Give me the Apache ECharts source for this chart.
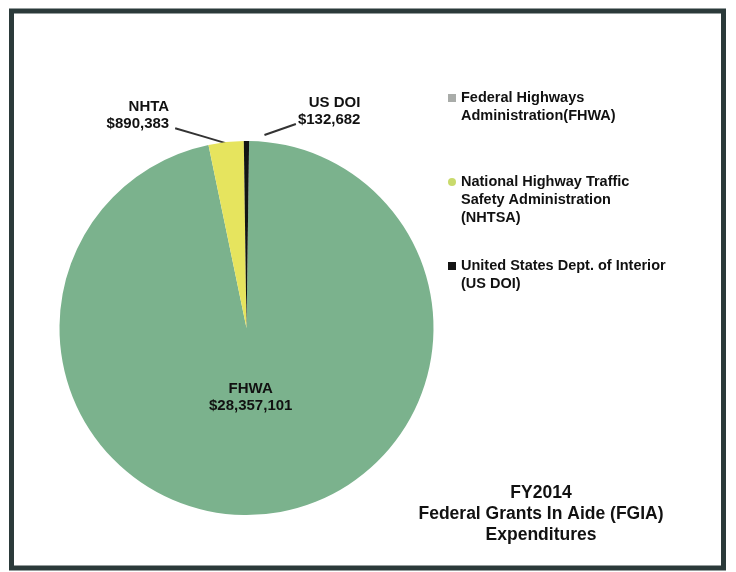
<!DOCTYPE html>
<html>
<head>
<meta charset="utf-8">
<script src="https://cdn.jsdelivr.net/npm/echarts@6/dist/echarts.min.js"></script>
<style>html,body{margin:0;padding:0;background:#fff}#c{width:736px;height:572px}</style>
</head>
<body>
<div id="c"></div>
<script>
// ---- data ----
const shortNames = ['FHWA', 'NHTA', 'US DOI'];
const legendNames = [
  'Federal Highways\nAdministration(FHWA)',
  'National Highway Traffic\nSafety Administration\n(NHTSA)',
  'United States Dept. of Interior\n(US DOI)'
];
const values = [28357101, 890383, 132682];
const sliceColors = ['#7bb28d', '#e6e45e', '#121414'];
const legendMarkerColors = ['#a9aca9', '#c9da6c', '#141414'];
const titleLines = ['FY2014', 'Federal Grants In Aide (FGIA)', 'Expenditures'];

const chart = echarts.init(document.getElementById('c'));
const fontFam = '"Liberation Sans", Arial, sans-serif';

function fmtMoney(v) {
  return '$' + v.toLocaleString('en-US');
}

const data = values.map((v, i) => ({
  name: legendNames[i],
  value: v,
  itemStyle: { color: sliceColors[i] },
  label: i === 0
    ? { position: 'inside' }
    : { position: 'outside' }
}));

// pad legend text so marker sits on the first line
function legendText(name) {
  const n = name.split('\n').length;
  return '\n'.repeat(n - 1) + name;
}

// relative label shifts (from the library's default placement)
const labelShift = [
  { dx: -5, dy: -27 },
  { dx: -31, dy: -19 },
  { dx: 139, dy: -22 }
];

chart.setOption({
  backgroundColor: '#ffffff',
  animation: false,
  title: {
    text: titleLines.join('\n'),
    left: 536,
    top: 478,
    textAlign: 'center',
    textStyle: { fontFamily: fontFam, fontWeight: 'bold', fontSize: 17.5, lineHeight: 21, color: '#111' }
  },
  legend: {
    orient: 'vertical',
    left: 443,
    top: 66,
    itemGap: 12,
    itemWidth: 8,
    itemHeight: 8,
    data: legendNames.map((n, i) => ({
      name: n,
      icon: i === 1 ? 'circle' : 'rect',
      itemStyle: { color: legendMarkerColors[i] }
    })),
    formatter: legendText,
    textStyle: { fontFamily: fontFam, fontWeight: 'bold', fontSize: 14.5, lineHeight: 18, color: '#111' }
  },
  graphic: [{
    type: 'rect',
    shape: { x: 11.5, y: 11, width: 712, height: 557 },
    style: { fill: 'none', stroke: '#2b3a3a', lineWidth: 5 },
    silent: true
  }],
  series: [{
    type: 'pie',
    center: [246.5, 328],
    radius: 187,
    startAngle: 89.2,
    clockwise: true,
    avoidLabelOverlap: false,
    data: data,
    label: {
      fontFamily: fontFam,
      fontWeight: 'bold',
      fontSize: 15,
      lineHeight: 17,
      color: '#111',
      align: 'center',
      formatter: p => shortNames[p.dataIndex] + '\n' + fmtMoney(p.value)
    },
    labelLine: { show: true, length: 8, length2: 20, lineStyle: { color: '#333', width: 2 } },
    labelLayout: function (p) {
      const s = labelShift[p.dataIndex];
      if (p.dataIndex === 0 || !p.labelLinePoints) return s;
      const r = p.labelRect;
      const a = p.labelLinePoints[0];
      let start, end;
      if (p.dataIndex === 1) {
        start = [a[0] + 3, a[1] + 2];
        end = [r.x + s.dx + r.width + 6, r.y + s.dy + r.height - 4];
      } else {
        start = [a[0] + 18, a[1] - 6];
        end = [r.x + s.dx - 2, r.y + s.dy + r.height - 4];
      }
      const mid = [(start[0] + end[0]) / 2, (start[1] + end[1]) / 2];
      return { dx: s.dx, dy: s.dy, labelLinePoints: [start, mid, end] };
    }
  }]
});
</script>
</body>
</html>
